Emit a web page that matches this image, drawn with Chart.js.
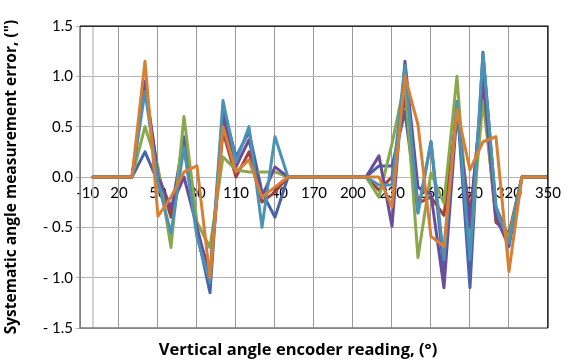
<!DOCTYPE html>
<html>
<head>
<meta charset="utf-8">
<script src="https://cdn.jsdelivr.net/npm/chart.js@4.4.1/dist/chart.umd.min.js"></script>
<style>
  html, body { margin: 0; padding: 0; background: #ffffff; }
  #wrap { width: 568px; height: 363px; position: relative; }
</style>
</head>
<body>
<div id="wrap"><canvas id="c" width="568" height="363"></canvas></div>
<script>
// Encoder readings (degrees)
const angles = [0,10,20,30,40,50,60,70,80,90,100,110,120,130,140,150,160,170,180,190,200,210,220,230,240,250,260,270,280,290,300,310,320,330,340,350];

// Series values (arc-seconds)
const series1 = [0,0,0,0,0.25,-0.05,-0.35,0.40,-0.55,-1.15,0.70,0.20,0.45,-0.15,-0.40,0,0,0,0,0,0,0,0.11,0.11,0.65,-0.35,0.35,-0.95,0.75,-1.10,1.24,-0.30,-0.60,0,0,0];
const series2 = [0,0,0,0,0.90,0.05,-0.40,0.30,-0.55,-0.95,0.45,0.00,0.25,-0.25,-0.15,0,0,0,0,0,0,0,-0.13,0.00,0.80,-0.26,-0.20,-0.38,0.65,-0.40,0.90,-0.45,-0.56,0,0,0];
const series3 = [0,0,0,0,0.50,0.10,-0.70,0.60,-0.45,-0.70,0.20,0.07,0.05,0.05,0.05,0,0,0,0,0,0,0,-0.20,0.33,0.95,-0.80,0.04,-0.26,1.00,-0.72,0.76,-0.35,-0.60,0,0,0];
const series4 = [0,0,0,0,0.95,0.00,-0.30,0.00,-0.50,-1.00,0.60,0.10,0.37,-0.20,0.10,0,0,0,0,0,0,0,0.21,-0.49,1.15,-0.10,-0.17,-1.10,0.65,-0.50,1.00,-0.40,-0.69,0,0,0];
const series5 = [0,0,0,0,0.85,-0.05,-0.56,0.30,-0.60,-1.05,0.76,0.15,0.50,-0.50,0.40,0,0,0,0,0,0,0,-0.08,-0.08,1.11,-0.36,0.35,-0.82,0.75,-0.82,1.22,-0.30,-0.66,0,0,0];
const series6 = [0,0,0,0,1.15,-0.39,-0.20,0.05,0.11,-1.00,0.50,0.05,0.17,-0.20,-0.10,0,0,0,0,0,0,0,0.00,-0.30,1.00,0.52,-0.59,-0.69,0.67,0.07,0.35,0.40,-0.94,0,0,0];

// Tick labels
const xTicks = [-10,20,50,80,110,140,170,200,230,260,290,320,350];
const xTickLabels = ['-10','20','50','80','110','140','170','200','230','260','290','320','350'];
const yTicks = [-1.5,-1.0,-0.5,0.0,0.5,1.0,1.5];
const yTickLabels = ['- 1.5','- 1.0','- 0.5','0.0','0.5','1.0','1.5'];

const xTitle = 'Vertical angle encoder reading, (°)';
const yTitle = 'Systematic angle measurement error, (")';

const allSeries = [series1, series2, series3, series4, series5, series6];
const colors = ['#4A62AA', '#A3403D', '#8AA84B', '#6B4C9A', '#4A93B5', '#D67F35'];

const datasets = allSeries.map((s, i) => ({
  label: 'Series ' + (i + 1),
  data: angles.map((a, j) => ({ x: a, y: s[j] })),
  borderColor: colors[i],
  backgroundColor: colors[i],
  borderWidth: 3,
  pointRadius: 0,
  tension: 0,
  fill: false,
  borderJoinStyle: 'round',
  borderCapStyle: 'round',
  order: allSeries.length - 1 - i
}));

const FONT = 'Lato, "Open Sans", sans-serif';
const TITLE_FONT = '"Open Sans", Lato, sans-serif';

const framePlugin = {
  id: 'frame',
  beforeDatasetsDraw(chart) {
    const { ctx, chartArea: a, scales } = chart;
    const x0 = scales.x.getPixelForValue(0);
    ctx.save();
    ctx.strokeStyle = '#C4C4C4';
    ctx.lineWidth = 1.5;
    ctx.beginPath();
    ctx.moveTo(x0, a.top);
    ctx.lineTo(x0, a.bottom);
    ctx.stroke();
    ctx.restore();
  },
  afterDatasetsDraw(chart) {
    const { ctx, chartArea: a } = chart;
    ctx.save();
    ctx.lineWidth = 1.5;
    ctx.strokeStyle = '#7A7A7A';
    ctx.beginPath();
    ctx.moveTo(a.left, a.top);
    ctx.lineTo(a.left, a.bottom);
    ctx.lineTo(a.right, a.bottom);
    ctx.stroke();
    ctx.strokeStyle = '#000000';
    ctx.lineWidth = 1.25;
    ctx.beginPath();
    ctx.moveTo(a.left, a.top);
    ctx.lineTo(a.right, a.top);
    ctx.lineTo(a.right, a.bottom);
    ctx.stroke();
    ctx.restore();
  },
  afterDraw(chart) {
    // x-axis title below the plot area
    const { ctx, chartArea: a } = chart;
    ctx.save();
    ctx.fillStyle = '#000';
    ctx.font = 'bold 16.5px ' + TITLE_FONT;
    ctx.textAlign = 'center';
    ctx.textBaseline = 'middle';
    ctx.fillText(xTitle, a.left + 218, a.bottom + 22);
    ctx.restore();
  }
};

new Chart(document.getElementById('c'), {
  type: 'line',
  data: { datasets },
  plugins: [framePlugin],
  options: {
    responsive: false,
    animation: false,
    events: [],
    layout: { padding: { top: 26, right: 17, left: 0, bottom: 35 } },
    plugins: {
      legend: { display: false },
      tooltip: { enabled: false },
      title: { display: false }
    },
    scales: {
      x: {
        type: 'linear',
        min: -10,
        max: 350,
        position: { y: 0 },
        afterBuildTicks: (s) => { s.ticks = xTicks.map(v => ({ value: v })); },
        ticks: {
          autoSkip: false,
          maxRotation: 0,
          color: '#000',
          padding: 7,
          font: { family: FONT, size: 15 },
          callback: (v) => {
            const k = xTicks.indexOf(v);
            if (k < 0) return '';
            return k === 0 ? '\u00A0\u00A0\u00A0\u00A0' + xTickLabels[k] : xTickLabels[k];
          }
        },
        grid: { color: '#9A9A9A', lineWidth: 1, drawTicks: false },
        border: { display: false }
      },
      y: {
        type: 'linear',
        min: -1.5,
        max: 1.5,
        afterBuildTicks: (s) => { s.ticks = yTicks.map(v => ({ value: v })); },
        afterFit: (s) => { s.width = 80; },
        ticks: {
          color: '#000',
          padding: 3,
          font: { family: FONT, size: 15 },
          callback: (v) => {
            const k = yTicks.findIndex(t => Math.abs(t - v) < 1e-9);
            return k >= 0 ? yTickLabels[k] : '';
          }
        },
        grid: { color: '#B4B4B4', lineWidth: 1, tickLength: 4 },
        border: { display: false },
        title: {
          display: true,
          text: yTitle,
          color: '#000',
          font: { family: TITLE_FONT, size: 15.5, weight: 'bold' },
          padding: { top: 2, bottom: 0 }
        }
      }
    }
  }
});
</script>
</body>
</html>
